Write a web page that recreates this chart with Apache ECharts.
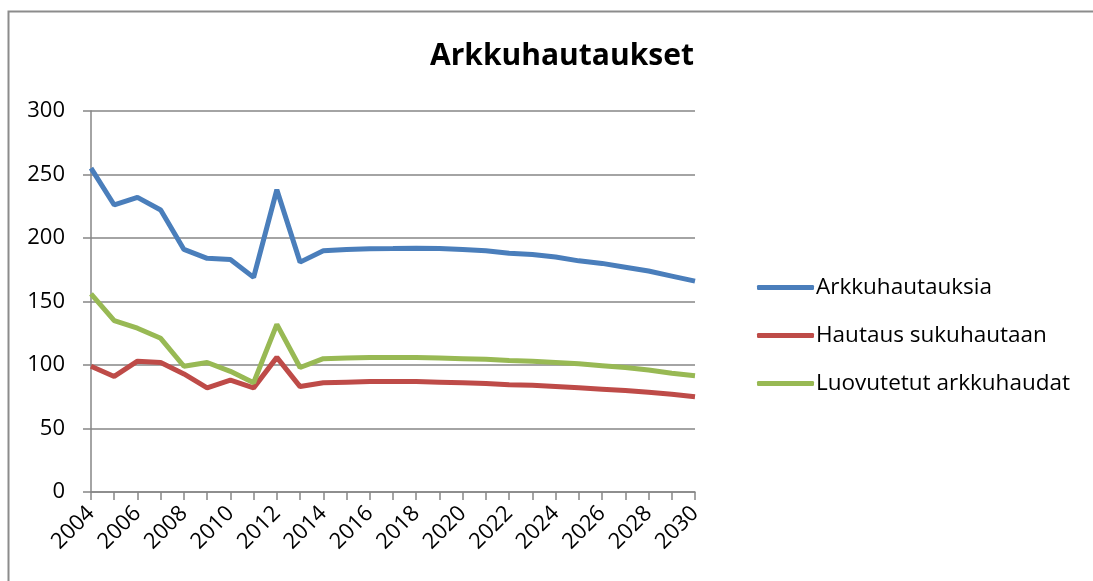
<!DOCTYPE html>
<html>
<head>
<meta charset="utf-8">
<script src="https://cdn.jsdelivr.net/npm/echarts@6/dist/echarts.min.js"></script>
<style>html,body{margin:0;padding:0;background:#fff}#c{width:1093px;height:581px}</style>
</head>
<body>
<div id="c"></div>
<script>
const years = ['2004','2005','2006','2007','2008','2009','2010','2011','2012','2013','2014','2015','2016','2017','2018','2019','2020','2021','2022','2023','2024','2025','2026','2027','2028','2029','2030'];
const arkkuhautauksia = [255,226,232,222,191,184,183,169,238,181,190,191,191.5,191.7,192,191.8,191,190,188,187,185,182,180,177,174,170,166];
const hautausSukuhautaan = [99,91,103,102,93,82,88,82,106,83,86,86.5,87,87,87,86.5,86,85.5,84.5,84,83,82,81,80,78.5,77,75];
const luovutetut = [156,135,129,121,99,102,95,86,132,98,105,105.5,106,106,106,105.5,105,104.5,103.5,103,102,101,99.5,98,96,93.5,91.5];
const yTicks = [0,50,100,150,200,250,300];

const FONT = 'Open Sans';
const chart = echarts.init(document.getElementById('c'));
const mk = (name, data, color) => ({
  name, type: 'line', data, symbol: 'none', smooth: false,
  lineStyle: { color, width: 5 }, itemStyle: { color }
});
chart.setOption({
  animation: false,
  backgroundColor: '#fff',
  title: {
    text: 'Arkkuhautaukset', left: 557, top: 36, textAlign: 'center',
    textStyle: { fontFamily: FONT, fontSize: 30, fontWeight: 'bold', color: '#000' }
  },
  graphic: [{
    type: 'rect', shape: { x: 8.5, y: 11.5, width: 1200, height: 700 },
    style: { fill: 'none', stroke: '#8c8c8c', lineWidth: 2 }, silent: true
  }],
  legend: {
    orient: 'vertical', left: 757, top: 276, itemGap: 25, padding: 0,
    itemWidth: 57, itemHeight: 5, icon: 'roundRect',
    textStyle: { fontFamily: FONT, fontSize: 22.5, color: '#000', padding: [0,0,0,-3] },
    data: ['Arkkuhautauksia','Hautaus sukuhautaan','Luovutetut arkkuhaudat']
  },
  grid: { left: 91, right: 398, top: 111, bottom: 89, containLabel: false },
  xAxis: {
    type: 'category', data: years, boundaryGap: false,
    axisLine: { lineStyle: { color: '#868686', width: 1.5 } },
    axisTick: { show: true, interval: 0, length: 8, lineStyle: { color: '#868686', width: 1.5 } },
    axisLabel: { interval: 1, rotate: 45, fontFamily: FONT, fontSize: 22, color: '#000', margin: 18 },
    splitLine: { show: false }
  },
  yAxis: {
    type: 'value', min: 0, max: 300, interval: 50,
    axisLine: { show: true, lineStyle: { color: '#868686', width: 1.5 } },
    axisTick: { show: true, length: 8, lineStyle: { color: '#868686', width: 1.5 } },
    axisLabel: { fontFamily: FONT, fontSize: 22, color: '#000', margin: 26,
      formatter: v => yTicks.includes(v) ? String(v) : '' },
    splitLine: { show: true, lineStyle: { color: '#868686', width: 1.5 } }
  },
  series: [
    mk('Arkkuhautauksia', arkkuhautauksia, '#4A7EBB'),
    mk('Hautaus sukuhautaan', hautausSukuhautaan, '#BE4B48'),
    mk('Luovutetut arkkuhaudat', luovutetut, '#98B954')
  ]
});
</script>
</body>
</html>
